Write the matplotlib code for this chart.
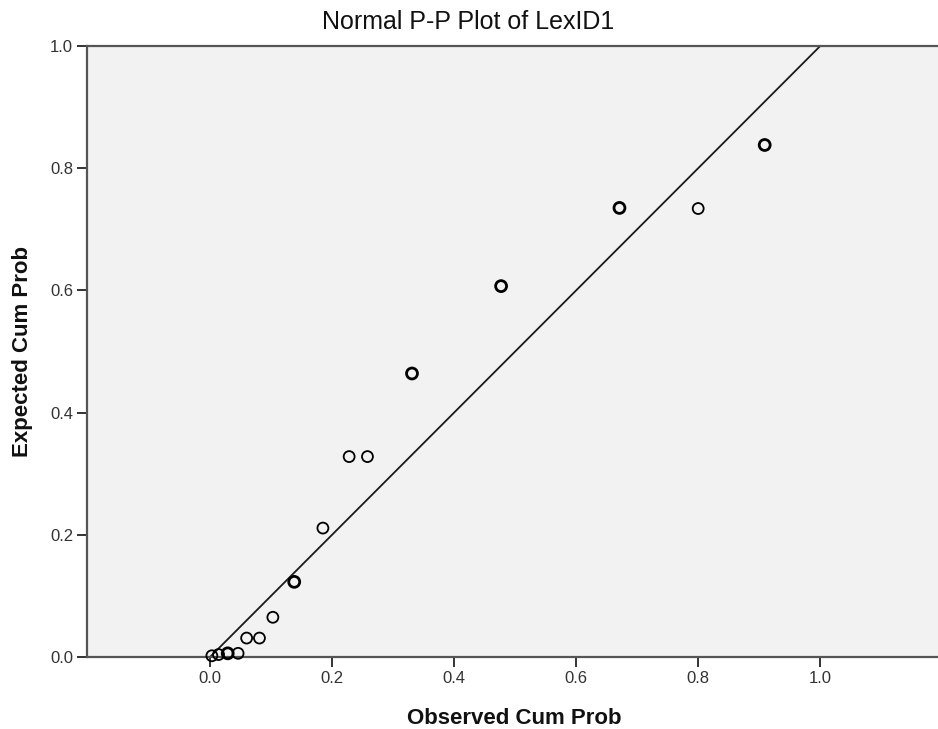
import numpy as np
import matplotlib.pyplot as plt

plt.rcParams['font.family'] = ['Liberation Sans', 'DejaVu Sans']

# observed vs expected cumulative probabilities (ties repeated in count)
observed = [0.003, 0.014, 0.029, 0.046, 0.060, 0.081, 0.103, 0.138, 0.185,
            0.228, 0.258, 0.331, 0.477, 0.671, 0.800, 0.909]
expected = [0.002, 0.004, 0.006, 0.006, 0.031, 0.031, 0.065, 0.123, 0.211,
            0.328, 0.328, 0.464, 0.607, 0.735, 0.734, 0.838]
counts = [1, 1, 2, 1, 1, 1, 1, 2, 1, 1, 1, 2, 2, 2, 1, 2]

x_ticks = [0.0, 0.2, 0.4, 0.6, 0.8, 1.0]
y_ticks = [0.0, 0.2, 0.4, 0.6, 0.8, 1.0]

fig = plt.figure(figsize=(9.38, 7.29), dpi=100)
ax = fig.add_axes([87 / 938, 72 / 729, 851 / 938, 611 / 729])
ax.set_facecolor('#f2f2f2')

# diagonal reference line
ax.plot([0, 1], [0, 1], color='#1a1a1a', linewidth=1.3, zorder=2)

lw = [1.3 + 0.7 * (c - 1) for c in counts]
ax.scatter(observed, expected, s=62, facecolors='none', edgecolors='black',
           linewidths=lw, zorder=3, clip_on=False)

ax.set_xlim(-0.2016, 1.193)
ax.set_ylim(0, 1)
ax.set_xticks(x_ticks)
ax.set_yticks(y_ticks)
ax.set_xticklabels([f'{t:.1f}' for t in x_ticks])
ax.set_yticklabels([f'{t:.1f}' for t in y_ticks])
ax.tick_params(direction='out', length=7, width=1.4, color='#333333',
               labelsize=12, labelcolor='#333333', pad=3)

for side in ['left', 'bottom', 'top']:
    ax.spines[side].set_color('#555555')
    ax.spines[side].set_linewidth(1.6)
ax.spines['right'].set_visible(False)

fig.text(468 / 938, 1 - 22 / 729, 'Normal P-P Plot of LexID1', ha='center',
         va='center', fontsize=18, color='#111111')
ax.set_xlabel('Observed Cum Prob', fontsize=16, fontweight='bold',
              color='#111111', va='center')
ax.set_ylabel('Expected Cum Prob', fontsize=16, fontweight='bold',
              color='#111111', va='center')
ax.xaxis.set_label_coords(0.5016, (657 - 718) / 611)
ax.yaxis.set_label_coords((22 - 87) / 851, 0.5)

fig.savefig('out.png', dpi=100)
